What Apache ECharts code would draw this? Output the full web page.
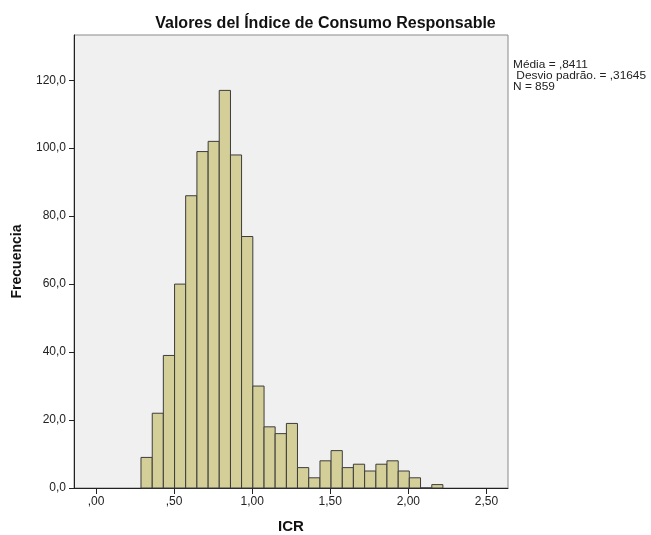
<!DOCTYPE html>
<html>
<head>
<meta charset="utf-8">
<script src="https://cdn.jsdelivr.net/npm/echarts@6/dist/echarts.min.js"></script>
<style>
  html, body { margin: 0; padding: 0; background: #fff; }
  #container { width: 651px; height: 535px; }
</style>
</head>
<body>
<div id="container"></div>
<script>
// histogram bins (ICR)
var binEdges = [0.288, 0.360, 0.431, 0.503, 0.574, 0.646, 0.718, 0.789, 0.861, 0.932,
                1.004, 1.076, 1.147, 1.219, 1.290, 1.362, 1.434, 1.505, 1.577, 1.648,
                1.720, 1.792, 1.863, 1.935, 2.006, 2.078, 2.150, 2.221];
var counts = [9, 22, 39, 60, 86, 99, 102, 117, 98, 74,
              30, 18, 16, 19, 6, 3, 8, 11, 6, 7,
              5, 7, 8, 5, 3, 0, 1];
var xTicks = [0, 0.5, 1.0, 1.5, 2.0, 2.5];
var yTicks = [0, 20, 40, 60, 80, 100, 120];
var statsLines = ['Média = ,8411', ' Desvio padrão. = ,31645', 'N = 859'];

var dom = document.getElementById('container');
var myChart = echarts.init(dom);

var barData = [];
for (var i = 0; i < counts.length; i++) {
  barData.push([binEdges[i], binEdges[i + 1], counts[i]]);
}

// spss style: drop leading zero, comma decimals
function fmtX(v) {
  var s = v.toFixed(2).replace('.', ',');
  if (s.indexOf('0,') === 0) s = s.substring(1);
  return s;
}
function fmtY(v) {
  return v.toFixed(1).replace('.', ',');
}

var font = 'Liberation Sans, Arial, sans-serif';

var option = {
  animation: false,
  backgroundColor: '#ffffff',
  title: {
    text: 'Valores del Índice de Consumo Responsable',
    left: 'center',
    top: 11,
    textStyle: { fontFamily: font, fontSize: 16, fontWeight: 'bold', color: '#111' }
  },
  grid: {
    left: 74, top: 35, width: 434, height: 453,
    outerBoundsMode: 'none',
    containLabel: false,
    show: true,
    backgroundColor: '#f0f0f0',
    borderColor: '#8a8a8a',
    borderWidth: 1
  },
  xAxis: {
    type: 'value',
    min: -0.141,
    max: 2.638,
    name: 'ICR',
    nameLocation: 'middle',
    nameGap: 31,
    nameTextStyle: { fontFamily: font, fontSize: 15, fontWeight: 'bold', color: '#111' },
    splitLine: { show: false },
    axisLine: { show: true, onZero: false, lineStyle: { color: '#222', width: 1 } },
    axisTick: { show: true, length: 6, customValues: xTicks, lineStyle: { color: '#222' } },
    axisLabel: {
      customValues: xTicks,
      formatter: fmtX,
      margin: 8,
      fontFamily: font, fontSize: 12, color: '#222'
    }
  },
  yAxis: {
    type: 'value',
    min: 0,
    max: 133.3,
    name: 'Frecuencia',
    nameLocation: 'middle',
    nameGap: 50,
    nameTextStyle: { fontFamily: font, fontSize: 14, fontWeight: 'bold', color: '#111' },
    splitLine: { show: false },
    axisLine: { show: true, onZero: false, lineStyle: { color: '#222', width: 1 } },
    axisTick: { show: true, length: 5, customValues: yTicks, lineStyle: { color: '#222' } },
    axisLabel: {
      customValues: yTicks,
      formatter: fmtY,
      margin: 8,
      fontFamily: font, fontSize: 12, color: '#222'
    }
  },
  graphic: [{
    type: 'text',
    left: 513,
    top: 59,
    scaleX: 1.08,
    style: {
      text: statsLines.join('\n'),
      font: '11px ' + font,
      lineHeight: 11,
      fill: '#222'
    }
  }],
  series: [{
    type: 'custom',
    data: barData,
    encode: { x: [0, 1], y: 2 },
    renderItem: function (params, api) {
      var p0 = api.coord([api.value(0), api.value(2)]);
      var p1 = api.coord([api.value(1), 0]);
      return {
        type: 'rect',
        shape: { x: p0[0], y: p0[1], width: p1[0] - p0[0], height: p1[1] - p0[1] },
        style: { fill: '#d4cf98', stroke: '#3c3c3c', lineWidth: 1 }
      };
    }
  }]
};

myChart.setOption(option);
</script>
</body>
</html>
